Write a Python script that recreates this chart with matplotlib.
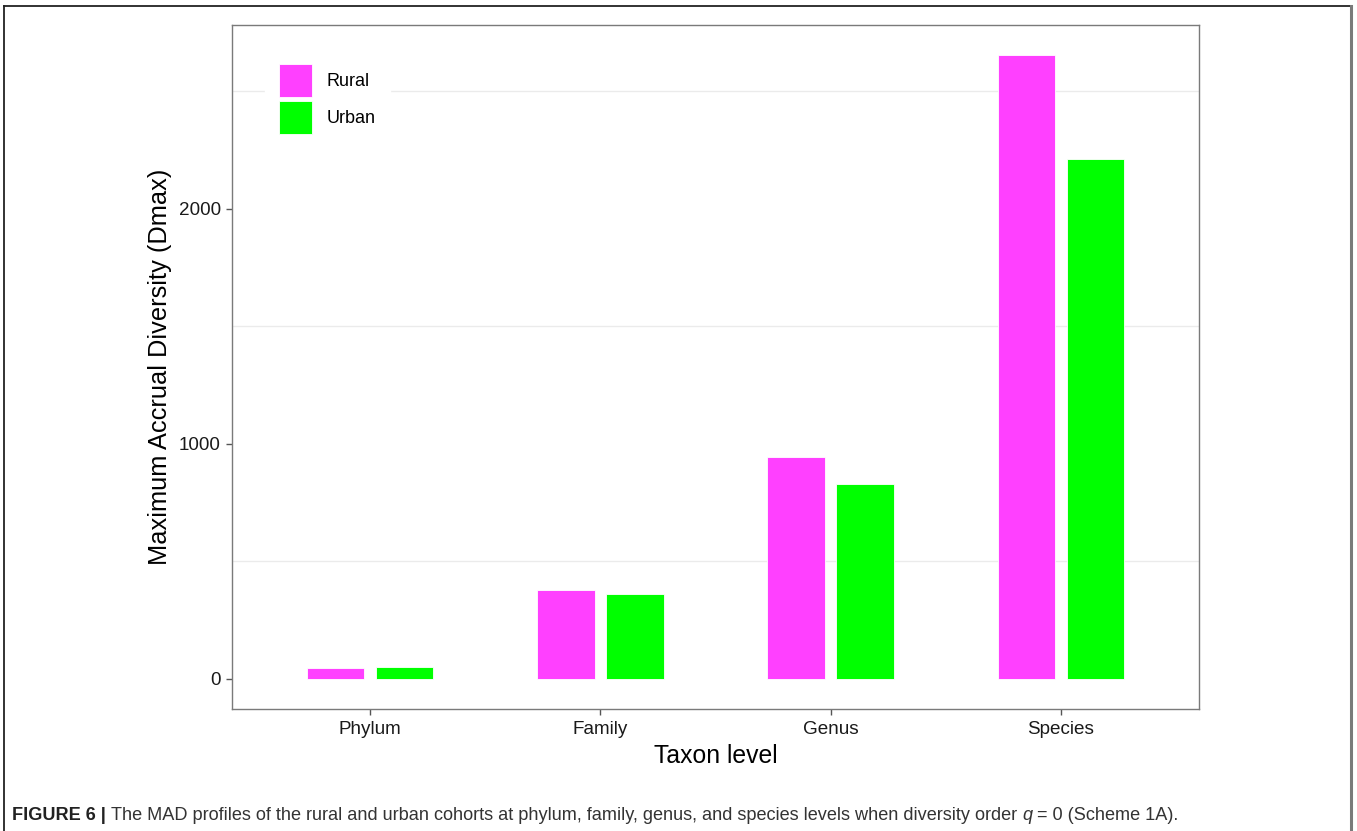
import matplotlib
matplotlib.use("Agg")
import matplotlib.pyplot as plt
from matplotlib.patches import Patch
from matplotlib.lines import Line2D
import numpy as np

plt.rcParams['font.family'] = ['Liberation Sans', 'DejaVu Sans']

# data
taxa = ["Phylum", "Family", "Genus", "Species"]
rural = [47, 379, 945, 2655]
urban = [51, 362, 830, 2213]
yticks = [0, 1000, 2000]

rural_col = "#FF40FF"
urban_col = "#00FF00"

W, H = 1357, 831
fig = plt.figure(figsize=(W / 100, H / 100), dpi=100)

# axes placed in pixel terms
left, right, top, bottom = 232, 1199, 25, 709
ax = fig.add_axes([left / W, 1 - bottom / H, (right - left) / W, (bottom - top) / H])

x = np.arange(1, len(taxa) + 1)
bw = 0.25
ax.bar(x - 0.15, rural, width=bw, color=rural_col, edgecolor="white", linewidth=0.6, label="Rural", zorder=3)
ax.bar(x + 0.15, urban, width=bw, color=urban_col, edgecolor="white", linewidth=0.6, label="Urban", zorder=3)

ax.set_xlim(0.4, 4.6)
ax.set_ylim(-128, 2783)
ax.set_xticks(x)
ax.set_xticklabels(taxa)
ax.set_yticks(yticks)
ax.set_yticks([500, 1500, 2500], minor=True)
ax.grid(which="minor", axis="y", color="#ebebeb", linewidth=1.0, zorder=0)
ax.tick_params(axis="y", which="minor", length=0)
ax.tick_params(which="major", length=4, width=1, color="#555555", pad=4,
               labelsize=13.6, labelcolor="#1a1a1a")
ax.tick_params(axis="x", pad=5)

for sp in ax.spines.values():
    sp.set_color("#7a7a7a")
    sp.set_linewidth(1.0)

ax.set_ylabel("Maximum Accrual Diversity (Dmax)", fontsize=18.3, va="center", color="black")
ax.yaxis.set_label_coords((160 - left) / (right - left), 0.5)
ax.set_xlabel("Taxon level", fontsize=17.8, va="center", color="black")
ax.xaxis.set_label_coords(0.5, (bottom - 756) / (bottom - top))

handles = [Patch(facecolor=rural_col, edgecolor="white", linewidth=0.6),
           Patch(facecolor=urban_col, edgecolor="white", linewidth=0.6)]
leg = ax.legend(handles, ["Rural", "Urban"], loc="upper left",
                bbox_to_anchor=((265 - left) / (right - left), (bottom - 50) / (bottom - top)),
                fontsize=13, frameon=True, fancybox=False, framealpha=1,
                edgecolor="white", facecolor="white",
                handlelength=1.83, handleheight=2.434, labelspacing=0.22,
                handletextpad=0.8, borderpad=0.8, borderaxespad=0)
leg.set_zorder(5)

# outer box of the journal figure
fig.add_artist(Line2D([3.5 / W, 3.5 / W], [0, 1 - 6 / H], transform=fig.transFigure, color="#222222", lw=1.3))
fig.add_artist(Line2D([3.5 / W, 1351 / W], [1 - 6 / H, 1 - 6 / H], transform=fig.transFigure, color="#222222", lw=1.3))
fig.add_artist(Line2D([1351 / W, 1351 / W], [0, 1 - 6 / H], transform=fig.transFigure, color="#7a7a7a", lw=2.2))

# caption, chained pieces
pieces = [("FIGURE 6 | ", "bold", "normal", "#222222"),
          ("The MAD profiles of the rural and urban cohorts at phylum, family, genus, and species levels when diversity order ", "normal", "normal", "#333333"),
          ("q", "normal", "italic", "#333333"),
          (" = 0 (Scheme 1A).", "normal", "normal", "#333333")]
renderer = fig.canvas.get_renderer()
cx = 12
for txt, wt, st, col in pieces:
    t = fig.text(cx / W, 1 - 815 / H, txt, fontsize=13.1, fontweight=wt, fontstyle=st,
                 color=col, va="center", ha="left")
    bb = t.get_window_extent(renderer=renderer)
    cx += bb.width

fig.savefig("out.png", dpi=100)
